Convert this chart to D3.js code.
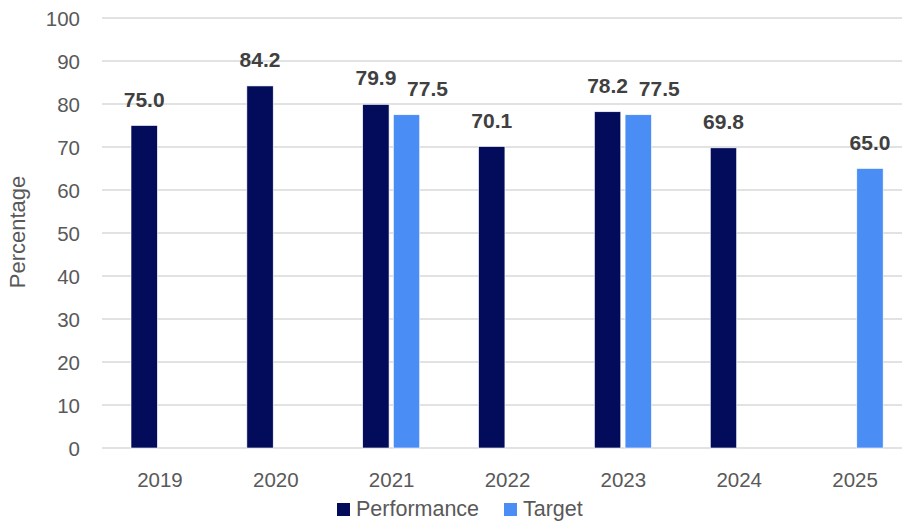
<!DOCTYPE html>
<html>
<head>
<meta charset="utf-8">
<style>
body{margin:0;background:#fff;}
svg{display:block;font-family:"Liberation Sans",Arial,sans-serif;}
</style>
</head>
<body>
<svg id="chart"></svg>
<script src="https://cdnjs.cloudflare.com/ajax/libs/d3/7.8.5/d3.min.js"></script>
<script>
var years = ['2019','2020','2021','2022','2023','2024','2025']
var performance = [75.0, 84.2, 79.9, 70.1, 78.2, 69.8, null]
var target = [null, null, 77.5, null, 77.5, null, 65.0]
var seriesNames = ['Performance','Target']
var yTicks = [0,10,20,30,40,50,60,70,80,90,100]

var width = 902, height = 525
var colors = {Performance:'#020c5b', Target:'#4a8df5'}

var svg = d3.select('#chart').attr('width',width).attr('height',height)

var x0 = d3.scaleBand().domain(years).range([102, 913]).paddingInner(0)
var x1 = d3.scaleBand().domain(seriesNames).range([29, 86]).paddingInner(0.14)
var y = d3.scaleLinear().domain([0,100]).range([448, 18])

// gridlines
svg.append('g').selectAll('line')
  .data(yTicks)
  .enter().append('line')
  .attr('x1',102).attr('x2',width)
  .attr('y1',d=>y(d)).attr('y2',d=>y(d))
  .attr('stroke','#d9d9d9').attr('stroke-width',1.5)

// y axis labels
var yAxis = d3.axisLeft(y).tickValues(yTicks).tickSize(0).tickPadding(0)
var gy = svg.append('g').attr('transform','translate(80,0)').call(yAxis)
gy.select('.domain').remove()
gy.selectAll('text').attr('fill','#595959').style('font-size','20.5px').attr('dy','0.36em')

// x axis labels
var xAxis = d3.axisBottom(x0).tickSize(0).tickPadding(0)
var gx = svg.append('g').attr('transform','translate(0,472)').call(xAxis)
gx.select('.domain').remove()
gx.selectAll('text').attr('fill','#595959').style('font-size','20.5px').attr('dy','0.72em')

// y title
svg.append('text')
  .attr('transform','translate(25,232) rotate(-90)')
  .attr('text-anchor','middle')
  .attr('fill','#595959')
  .style('font-size','22px')
  .text('Percentage')

var rows = years.map(function(yr,i){
  var both = performance[i]!=null && target[i]!=null
  return {year:yr, values:[{key:'Performance', v:performance[i], shift:0},
                           {key:'Target', v:target[i], shift: both ? 21 : 0}]}
})

var groups = svg.append('g').selectAll('g')
  .data(rows)
  .enter().append('g')
  .attr('transform',d=>'translate('+x0(d.year)+',0)')

groups.selectAll('rect')
  .data(d=>d.values.filter(v=>v.v!=null))
  .enter().append('rect')
  .attr('x',d=>x1(d.key))
  .attr('width',x1.bandwidth())
  .attr('y',d=>y(d.v))
  .attr('height',d=>y(0)-y(d.v))
  .attr('fill',d=>colors[d.key])
  .attr('stroke','#fff').attr('stroke-width',0.6)

// value labels, the target one nudged right when it sits next to a performance bar
groups.selectAll('text.lbl')
  .data(d=>d.values.filter(v=>v.v!=null))
  .enter().append('text')
  .attr('class','lbl')
  .attr('x',d=>x1(d.key)+x1.bandwidth()/2+d.shift)
  .attr('y',d=>y(d.v)-19)
  .attr('text-anchor','middle')
  .attr('fill','#404040')
  .style('font-size','21px')
  .style('font-weight','bold')
  .text(d=>d.v.toFixed(1))

// legend
var legend = svg.append('g').attr('transform','translate(337,503)')
var lx = [0, 167]
seriesNames.forEach(function(s,i){
  var g = legend.append('g').attr('transform','translate('+lx[i]+',0)')
  g.append('rect').attr('width',13).attr('height',13).attr('fill',colors[s])
  g.append('text').attr('x',19).attr('y',13).attr('fill','#595959')
    .style('font-size','21.5px').text(s)
})
</script>
</body>
</html>
